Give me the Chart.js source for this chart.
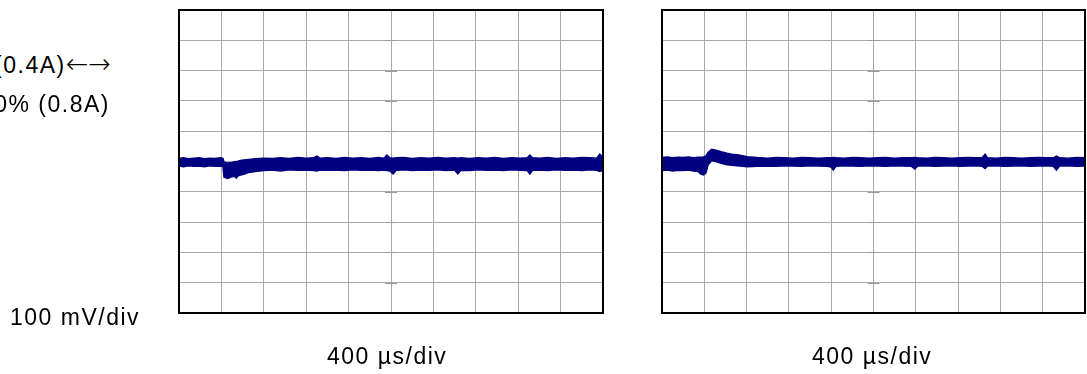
<!DOCTYPE html>
<html>
<head>
<meta charset="utf-8">
<script src="https://cdn.jsdelivr.net/npm/chart.js@4.4.1/dist/chart.umd.min.js"></script>
<style>
  html, body { margin: 0; padding: 0; background: #fff; }
  #wrap { position: relative; width: 1087px; height: 374px; overflow: hidden;
          font-family: "Liberation Sans", Arial, sans-serif; color: #000; }
  canvas { position: absolute; }
  .lbl { position: absolute; white-space: nowrap; font-size: 23px; letter-spacing: 1.5px; line-height: 0; }
  .arr { font-family: "DejaVu Sans", sans-serif; font-size: 27px; letter-spacing: 0; font-weight: 300; }
</style>
</head>
<body>
<div id="wrap">
  <canvas id="stepUp" width="444" height="323" style="left:169px;top:0px"></canvas>
  <canvas id="stepDown" width="443" height="323" style="left:652px;top:0px"></canvas>
  <div class="lbl" style="right:976px;top:64px;">50% (0.4A)<span class="arr">←→</span></div>
  <div class="lbl" style="right:977px;top:104px;">100% (0.8A)</div>
  <div class="lbl" style="left:10px;top:317px;">100 mV/div</div>
  <div class="lbl" style="left:327px;top:356px;">400 µs/div</div>
  <div class="lbl" style="left:812px;top:356px;">400 µs/div</div>
</div>
<script>
// Output ripple envelope, time in µs, voltage deviation in mV (AC coupled)
// Load step 0.4 A -> 0.8 A
const stepUpTime = [0,40,90,140,190,240,290,340,390,415,425,460,500,525,540,555,580,610,660,720,800,880,960,1040,1120,1200,1270,1300,1330,1400,1480,1560,1640,1720,1800,1880,1935,1960,1990,2020,2050,2120,2200,2280,2360,2440,2520,2600,2630,2660,2740,2820,2900,2980,3060,3140,3220,3285,3310,3335,3400,3480,3560,3640,3720,3800,3880,3940,3970,4000];
const stepUpUpper = [10,12,9,11,12,9,11,10,12,10,-2,-5,-3,-1,0,1,3,5,7,9,11,10,12,10,13,11,12,18,11,12,10,13,11,12,10,13,11,21,12,11,12,13,10,12,11,13,11,12,11,12,10,12,11,13,10,12,11,12,21,12,11,13,10,12,11,13,12,11,24,14];
const stepUpLower = [-15,-17,-14,-16,-15,-17,-14,-16,-15,-16,-52,-56,-50,-49,-55,-48,-45,-42,-36,-33,-30,-28,-31,-27,-29,-28,-30,-31,-28,-29,-28,-30,-27,-29,-28,-30,-28,-30,-31,-41,-29,-27,-30,-28,-29,-27,-30,-28,-41,-29,-30,-27,-29,-28,-30,-27,-29,-30,-41,-29,-28,-30,-27,-29,-28,-30,-27,-29,-33,-29];

// Load release 0.8 A -> 0.4 A
const stepDownTime = [0,50,100,150,200,250,300,340,365,390,415,435,470,510,560,615,660,710,760,805,900,995,1080,1160,1240,1320,1400,1480,1560,1600,1620,1645,1720,1800,1880,1960,2040,2120,2200,2280,2360,2390,2420,2500,2580,2660,2740,2820,2900,2980,3030,3055,3080,3160,3240,3320,3400,3480,3560,3640,3700,3730,3760,3840,3920,4000];
const stepDownUpper = [13,15,12,14,13,15,12,14,14,15,18,30,40,37,32,27,24,22,19,16,13,11,13,12,11,13,12,11,12,12,13,12,11,13,12,11,12,13,11,12,12,13,12,11,13,12,11,12,13,12,13,24,12,11,13,12,11,12,13,12,12,18,12,11,13,12];
const stepDownLower = [-30,-28,-31,-29,-30,-28,-31,-33,-41,-44,-38,-12,3,0,-6,-11,-12,-14,-16,-17,-16,-15,-16,-14,-15,-16,-14,-15,-16,-18,-28,-16,-14,-15,-16,-14,-15,-16,-14,-15,-16,-25,-15,-14,-16,-15,-14,-16,-15,-14,-16,-23,-15,-14,-16,-15,-14,-16,-15,-14,-16,-28,-15,-14,-16,-15];

const TRACE = '#000080';
const GRID = '#a8a8a8';

function points(t, v) { return t.map((x, i) => ({ x: x, y: v[i] })); }

// Screen frame and centre graticule marks
const graticule = {
  id: 'graticule',
  beforeDatasetsDraw(chart) {
    const { ctx, scales: { x, y } } = chart;
    const cx = x.getPixelForValue(2000);
    ctx.save();
    ctx.strokeStyle = '#9a9a9a';
    ctx.lineWidth = 1;
    ctx.beginPath();
    for (let v = -500; v <= 500; v += 100) {
      const py = Math.round(y.getPixelForValue(v)) + 0.5;
      ctx.moveTo(cx - 6, py); ctx.lineTo(cx + 6, py);
    }
    ctx.stroke();
    ctx.restore();
  },
  afterDraw(chart) {
    const { ctx, chartArea: a } = chart;
    ctx.save();
    ctx.strokeStyle = '#000';
    ctx.lineWidth = 2;
    ctx.strokeRect(a.left, a.top, a.right - a.left, a.bottom - a.top);
    ctx.restore();
  }
};

function scope(id, t, up, lo) {
  return new Chart(document.getElementById(id), {
    type: 'line',
    data: {
      datasets: [
        { data: points(t, up), borderColor: TRACE, backgroundColor: TRACE, borderWidth: 1.5,
          pointRadius: 0, tension: 0, fill: '+1' },
        { data: points(t, lo), borderColor: TRACE, backgroundColor: TRACE, borderWidth: 1.5,
          pointRadius: 0, tension: 0, fill: false }
      ]
    },
    options: {
      responsive: false,
      animation: false,
      events: [],
      layout: { padding: { left: 10, right: 10, top: 10, bottom: 10 } },
      plugins: { legend: { display: false }, tooltip: { enabled: false } },
      scales: {
        x: { type: 'linear', min: 0, max: 4000,
             ticks: { display: false, stepSize: 400 },
             grid: { color: GRID, lineWidth: 1, drawTicks: false },
             border: { display: false } },
        y: { type: 'linear', min: -500, max: 500,
             ticks: { display: false, stepSize: 100 },
             grid: { color: GRID, lineWidth: 1, drawTicks: false },
             border: { display: false } }
      }
    },
    plugins: [graticule]
  });
}

scope('stepUp', stepUpTime, stepUpUpper, stepUpLower);
scope('stepDown', stepDownTime, stepDownUpper, stepDownLower);
</script>
</body>
</html>
